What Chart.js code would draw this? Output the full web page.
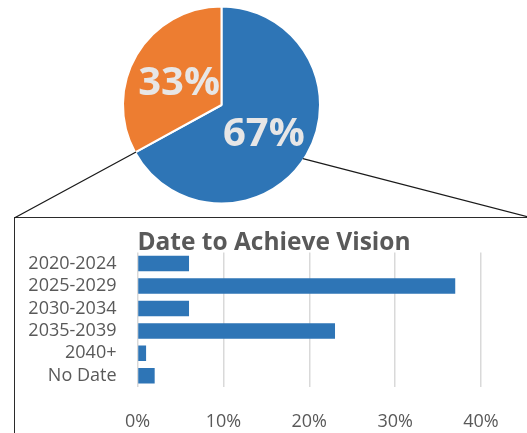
<!DOCTYPE html>
<html>
<head>
<meta charset="utf-8">
<script src="https://cdn.jsdelivr.net/npm/chart.js@4"></script>
<style>
  html, body { margin: 0; padding: 0; background: #fff; overflow: hidden; }
  body { width: 527px; height: 433px; position: relative; }
  #box { position: absolute; left: 14px; top: 217px; width: 518px; height: 240px;
         border: 1.5px solid #2b2b2b; box-sizing: border-box; }
  #barWrap { position: absolute; left: 15px; top: 218px; width: 518px; height: 215px; }
  #pieWrap { position: absolute; left: 0; top: 0; width: 527px; height: 433px; pointer-events: none; }
</style>
</head>
<body>
<div id="box"></div>
<div id="barWrap"><canvas id="barChart"></canvas></div>
<div id="pieWrap"><canvas id="pieChart"></canvas></div>
<script>
// pie: share with a target date vs. without
var pieValues = [67, 33];
var pieColors = ['#2e75b6', '#ed7d31'];

// bar of pie: date to achieve vision (%)
var barCategories = ['2020-2024', '2025-2029', '2030-2034', '2035-2039', '2040+', 'No Date'];
var barValues = [6, 37, 6, 23, 1, 2];
var xTicks = [0, 10, 20, 30, 40];

var fontFamily = '"Open Sans", "Noto Sans", sans-serif';
var grey = '#595959';

// labels inside pie slices
var pieLabels = {
    id: 'pieLabels',
    afterDatasetsDraw: function(chart) {
        var ctx = chart.ctx;
        var meta = chart.getDatasetMeta(0);
        var total = pieValues.reduce(function(a, b) { return a + b; }, 0);
        ctx.save();
        ctx.font = 'bold 40px ' + fontFamily;
        ctx.fillStyle = '#e7e6e6';
        ctx.textAlign = 'center';
        ctx.textBaseline = 'alphabetic';
        meta.data.forEach(function(arc, i) {
            var p = arc.getCenterPoint();
            // baseline set so the digits sit centred on the slice point
            ctx.fillText(Math.round(pieValues[i] / total * 100) + '%', p.x, p.y + 15.5);
        });
        ctx.restore();
    }
};

// connector lines from pie to the bar box
var connectors = {
    id: 'connectors',
    afterDraw: function(chart) {
        var ctx = chart.ctx;
        var arc = chart.getDatasetMeta(0).data[0];
        var box = document.getElementById('box');
        var bx = box.offsetLeft + 0.75, by = box.offsetTop + 0.75;
        var r = arc.outerRadius - 1;
        var a1 = arc.endAngle;
        var a2 = 33.4 * Math.PI / 180;
        ctx.save();
        ctx.strokeStyle = '#1a1a1a';
        ctx.lineWidth = 1.3;
        ctx.beginPath();
        ctx.moveTo(arc.x + r * Math.cos(a1), arc.y + r * Math.sin(a1));
        ctx.lineTo(bx, by);
        ctx.moveTo(arc.x + r * Math.cos(a2), arc.y + r * Math.sin(a2));
        ctx.lineTo(bx + box.offsetWidth - 1.5, by);
        ctx.stroke();
        ctx.restore();
    }
};

new Chart(document.getElementById('pieChart').getContext('2d'), {
    type: 'pie',
    data: {
        labels: ['Date set', 'No date'],
        datasets: [{
            data: pieValues,
            backgroundColor: pieColors,
            borderColor: '#ffffff',
            borderWidth: 2
        }]
    },
    options: {
        responsive: true,
        maintainAspectRatio: false,
        animation: false,
        radius: 98.5,
        layout: { padding: { left: 0, top: 0, right: 84, bottom: 223 } },
        plugins: {
            legend: { display: false },
            tooltip: { enabled: false }
        }
    },
    plugins: [pieLabels, connectors]
});

new Chart(document.getElementById('barChart').getContext('2d'), {
    type: 'bar',
    data: {
        labels: barCategories,
        datasets: [{
            data: barValues,
            backgroundColor: '#2e75b6',
            categoryPercentage: 1,
            barPercentage: 0.69
        }]
    },
    options: {
        indexAxis: 'y',
        responsive: true,
        maintainAspectRatio: false,
        animation: false,
        layout: { padding: 0 },
        scales: {
            x: {
                min: 0,
                max: 40,
                afterBuildTicks: function(scale) {
                    scale.ticks = xTicks.map(function(v) { return { value: v }; });
                },
                afterFit: function(scale) { scale.height = 46; },
                grid: { color: '#d9d9d9', lineWidth: 1.5, drawTicks: false },
                border: { display: false },
                ticks: {
                    padding: 24,
                    color: grey,
                    font: { family: fontFamily, size: 18 },
                    callback: function(v) { return v + '%'; }
                }
            },
            y: {
                afterFit: function(scale) { scale.width = 122.5; },
                grid: { display: false, drawTicks: false },
                border: { display: false },
                ticks: {
                    autoSkip: false,
                    padding: 21,
                    color: grey,
                    font: { family: fontFamily, size: 18 }
                }
            },
            // empty right-hand gutter so the title stays centred on the box
            gutter: {
                type: 'category',
                position: 'right',
                afterFit: function(scale) { scale.width = 52; },
                grid: { display: false, drawTicks: false },
                border: { display: false },
                ticks: { display: false }
            }
        },
        plugins: {
            legend: { display: false },
            tooltip: { enabled: false },
            title: {
                display: true,
                text: 'Date to Achieve Vision',
                color: grey,
                font: { family: fontFamily, size: 24.5, weight: 'bold', lineHeight: 0.75 },
                padding: { top: 16, bottom: 0 }
            }
        }
    }
});
</script>
</body>
</html>
